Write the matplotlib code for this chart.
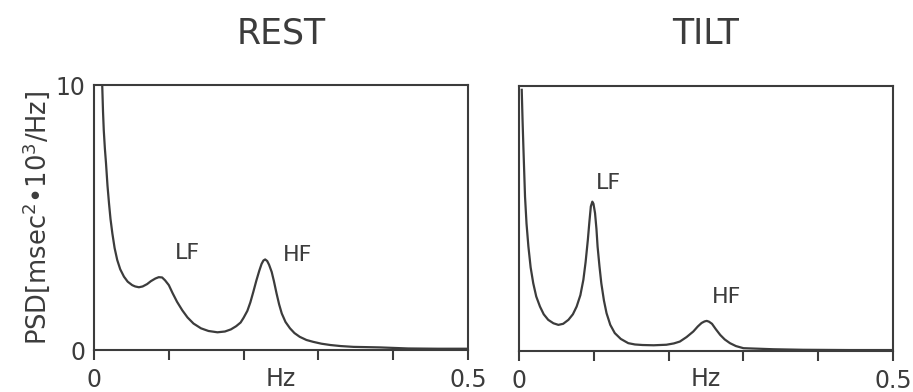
import matplotlib
matplotlib.use("Agg")
import matplotlib.pyplot as plt

# power spectral density (Hz, msec^2*10^3/Hz)
rest_f = [0.011, 0.012, 0.013, 0.0145, 0.016, 0.018, 0.020, 0.022, 0.0245, 0.0275,
          0.031, 0.035, 0.040, 0.045, 0.051, 0.055, 0.060, 0.065, 0.071, 0.076,
          0.082, 0.0865, 0.091, 0.095, 0.100, 0.105, 0.111, 0.118, 0.125, 0.133,
          0.143, 0.153, 0.165, 0.175, 0.183, 0.190, 0.196, 0.200, 0.205, 0.209,
          0.213, 0.217, 0.221, 0.224, 0.2265, 0.2288, 0.2315, 0.234, 0.2375, 0.2405,
          0.244, 0.2475, 0.251, 0.256, 0.262, 0.268, 0.275, 0.284, 0.293, 0.304,
          0.316, 0.330, 0.347, 0.365, 0.382, 0.42, 0.46, 0.5]
rest_psd = [9.94, 9.0, 8.3, 7.6, 7.05, 6.2, 5.54, 4.95, 4.40, 3.85,
            3.40, 3.05, 2.77, 2.58, 2.45, 2.40, 2.37, 2.40, 2.49, 2.60,
            2.70, 2.75, 2.74, 2.63, 2.45, 2.15, 1.82, 1.50, 1.23, 1.00,
            0.82, 0.72, 0.67, 0.70, 0.78, 0.90, 1.04, 1.22, 1.48, 1.80,
            2.20, 2.62, 3.00, 3.25, 3.38, 3.42, 3.36, 3.22, 2.95, 2.60,
            2.14, 1.72, 1.38, 1.06, 0.82, 0.64, 0.50, 0.38, 0.31, 0.24,
            0.19, 0.15, 0.12, 0.11, 0.10, 0.06, 0.05, 0.05]

tilt_f = [0.0036, 0.0047, 0.0058, 0.008, 0.010, 0.0125, 0.0155, 0.019, 0.023, 0.028,
          0.033, 0.039, 0.046, 0.0526, 0.059, 0.066, 0.072, 0.077, 0.082, 0.086,
          0.089, 0.092, 0.094, 0.096, 0.098, 0.0995, 0.1016, 0.1035, 0.105, 0.1075,
          0.110, 0.1135, 0.117, 0.122, 0.128, 0.136, 0.146, 0.155, 0.165, 0.180,
          0.197, 0.207, 0.215, 0.224, 0.233, 0.239, 0.244, 0.248, 0.251, 0.254,
          0.258, 0.263, 0.269, 0.275, 0.282, 0.290, 0.300, 0.340, 0.38, 0.44, 0.5]
tilt_psd = [9.85, 8.7, 7.7, 5.82, 4.8, 3.94, 3.15, 2.55, 2.05, 1.67,
            1.38, 1.17, 1.04, 0.98, 1.02, 1.17, 1.38, 1.67, 2.10, 2.68,
            3.35, 4.19, 4.85, 5.45, 5.63, 5.55, 5.20, 4.60, 3.94, 3.20,
            2.55, 1.90, 1.42, 0.98, 0.67, 0.45, 0.29, 0.24, 0.22, 0.21,
            0.23, 0.28, 0.35, 0.52, 0.73, 0.92, 1.05, 1.11, 1.13, 1.10,
            1.02, 0.82, 0.60, 0.43, 0.29, 0.18, 0.10, 0.06, 0.04, 0.03, 0.03]

panels = ["REST", "TILT"]
peak_labels = {"REST": [("LF", 0.125, 3.65), ("HF", 0.272, 3.57)],
               "TILT": [("LF", 0.120, 6.32), ("HF", 0.277, 2.05)]}
xticks = [0, 0.1, 0.2, 0.3, 0.4, 0.5]
xticklabels = ["0", "", "", "", "", "0.5"]

ink = "#3c3c3c"
plt.rcParams["font.family"] = "DejaVu Sans"

fig = plt.figure(figsize=(9.13, 3.92), dpi=100)
ax1 = fig.add_axes([0.103, 0.107, 0.4096, 0.676])
ax2 = fig.add_axes([0.5685, 0.105, 0.4096, 0.676])

for ax, name, f, psd in [(ax1, "REST", rest_f, rest_psd), (ax2, "TILT", tilt_f, tilt_psd)]:
    ax.plot(f, psd, color=ink, lw=1.6, solid_joinstyle="round")
    ax.set_xlim(0, 0.5)
    ax.set_ylim(0, 10)
    for s in ax.spines.values():
        s.set_color(ink)
        s.set_linewidth(1.5)
    ax.set_xticks(xticks)
    ax.set_xticklabels(xticklabels)
    ax.tick_params(axis="x", direction="out", length=7, width=1.5, color=ink,
                   labelsize=17, labelcolor=ink, pad=6)
    ax.set_title(name, fontsize=25, color=ink, pad=30)
    ax.annotate("Hz", xy=(0.5, 0), xycoords="axes fraction", xytext=(0, -20.5),
                textcoords="offset points", ha="center", va="center",
                fontsize=17, color=ink)
    for txt, x, y in peak_labels[name]:
        ax.text(x, y, txt, ha="center", va="center", fontsize=16, color=ink)

ax1.set_yticks([0, 10])
ax1.set_yticklabels(["0", "10"])
ax1.tick_params(axis="y", length=0, labelsize=17, labelcolor=ink, pad=6)
ax1.set_ylabel(r"PSD[msec$^{2}$•10$^{3}$/Hz]", fontsize=18.5, color=ink, labelpad=3)
ax2.set_yticks([])

fig.savefig("out.png", dpi=100)
